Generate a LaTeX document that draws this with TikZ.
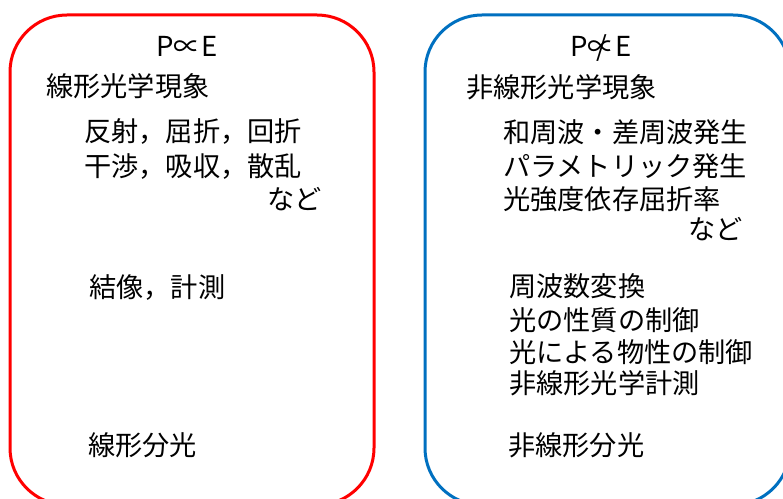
\documentclass[tikz,border=0pt]{standalone}
\usepackage{fontspec}
\setmainfont{Noto Sans CJK JP}
\begin{document}
\begin{tikzpicture}[x=1bp,y=-1bp,
  txt/.style={anchor=base west,inner sep=0pt,font=\fontsize{27.2bp}{30bp}\selectfont},
  eq/.style={anchor=base,inner sep=0pt,font=\fontsize{27.5bp}{30bp}\selectfont},
  panel/.style={line width=3bp,rounded corners=57bp}]
\useasboundingbox (0,0) rectangle (783,499);
% panels
\draw[panel,draw={rgb,255:red,255;green,0;blue,0}] (10,15) rectangle (374,505);
\draw[panel,draw={rgb,255:red,0;green,112;blue,192}] (425,15) rectangle (790,505);
% left panel
\node[eq] (peq) at (187,57) {P∝E};
\node[txt] (lin) at (46,97) {線形光学現象};
\node[txt] (l1) at (84,142) {反射，屈折，回折};
\node[txt] (l2) at (84,177) {干渉，吸収，散乱};
\node[txt] (l3) at (267,210) {など};
\node[txt] (l4) at (89,298) {結像，計測};
\node[txt] (l5) at (88,455) {線形分光};
% right panel
\node[eq] (pne) at (601,57) {P\ooalign{∝\cr\hidewidth/\hidewidth}E};
\node[txt] (nlin) at (466,98) {非線形光学現象};
\node[txt] (r1) at (503,143) {和周波・差周波発生};
\node[txt] (r2) at (503,177) {パラメトリック発生};
\node[txt] (r3) at (503,210) {光強度依存屈折率};
\node[txt] (r4) at (688,240) {など};
\node[txt] (r5) at (509,297) {周波数変換};
\node[txt] (r6) at (509,330) {光の性質の制御};
\node[txt] (r7) at (509,362) {光による物性の制御};
\node[txt] (r8) at (509,393) {非線形光学計測};
\node[txt] (r9) at (508,455) {非線形分光};
\end{tikzpicture}
\end{document}
